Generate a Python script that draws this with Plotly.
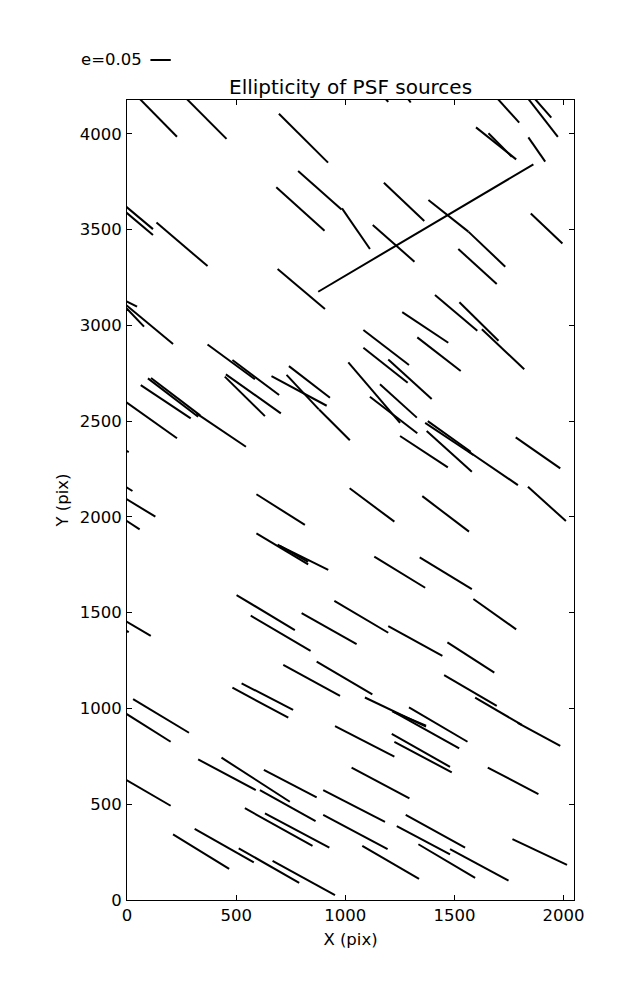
import plotly.graph_objects as go

# Whisker endpoints in detector pixel coordinates
x_start = [60, 275, 696, 784, 985, 684, -10, -10, 135, 1170, 1275, 1700, 1840, 1870, 1599, 1656, 1839,
           876, 1177, 1381, 1564, 1518, 1850, 1126, 690, -20, -20, -20, 369, 483, 662, 742, 731, 880,
           1014, 96, 63, 110, -10, 318, 453, 448, 1411, 1523, 1626, 1261, 1330, 1083, 1083, 1197,
           1159, 1113, 1251, 1373, 1366, 1378, 1560, 1781, 1837, 1020, 1353, 1133, 1341, -30, -10,
           -10, -10, 593, 593, 700, 690, 502, 567, 800, 950, 716, 869, 953, 28, -10, -10, -20, 525,
           483, 1587, 1197, 1468, 1453, 1595, 1790, 1090, 1215, 1220, 1292, 1213, 1225, -10, 326,
           433, 627, 609, 899, 1029, 540, 632, 899, 211, 310, 512, 667, 1653, 1277, 1236, 1480,
           1335, 1078, 1766]
y_start = [4180, 4180, 4104, 3805, 3610, 3720, 3625, 3595, 3536, 4200, 4200, 4180, 4180, 4180, 4033,
           4002, 3981, 3175, 3744, 3654, 3489, 3398, 3584, 3523, 3294, 3135, 3121, 3110, 2900, 2819,
           2735, 2787, 2741, 2560, 2806, 2723, 2688, 2725, 2604, 2540, 2744, 2732, 3158, 3120, 2979,
           3069, 2937, 2975, 2883, 2822, 2692, 2627, 2422, 2448, 2491, 2500, 2345, 2415, 2157, 2149,
           2108, 1792, 1789, 2360, 2160, 2098, 1985, 2118, 1914, 1849, 1855, 1592, 1484, 1497, 1561,
           1227, 1244, 908, 1048, 977, 1458, 1415, 1131, 1108, 1571, 1430, 1345, 1174, 1056, 925,
           1057, 985, 983, 1005, 867, 826, 631, 734, 743, 679, 574, 574, 691, 479, 452, 444, 343,
           371, 270, 204, 691, 444, 386, 266, 291, 283, 318]
x_end = [229, 456, 921, 983, 1113, 905, 119, 119, 369, 1197, 1300, 1797, 1974, 1944, 1783, 1763, 1916,
         1862, 1362, 1564, 1733, 1694, 1995, 1317, 907, 46, 211, 78, 586, 697, 915, 930, 879, 1021,
         1251, 326, 292, 335, 229, 545, 705, 632, 1605, 1702, 1820, 1472, 1529, 1292, 1286, 1396,
         1328, 1330, 1470, 1580, 1587, 1575, 1791, 1985, 2011, 1225, 1567, 1366, 1580, 8, 25, 130,
         58, 815, 830, 922, 830, 769, 841, 1052, 1197, 976, 1124, 1225, 284, 200, 109, 8, 761, 739,
         1783, 1445, 1683, 1694, 1809, 1985, 1370, 1370, 1522, 1560, 1480, 1488, 200, 590, 746,
         869, 864, 1182, 1294, 850, 927, 1194, 468, 581, 789, 953, 1885, 1549, 1480, 1748, 1595,
         1338, 2016]
y_end = [3984, 3973, 3849, 3605, 3398, 3494, 3502, 3471, 3309, 4166, 4163, 4058, 3984, 4084, 3866,
         3880, 3854, 3840, 3544, 3489, 3306, 3216, 3427, 3332, 3085, 3097, 2902, 2993, 2718, 2636,
         2580, 2622, 2561, 2400, 2491, 2523, 2514, 2530, 2410, 2366, 2540, 2526, 2972, 2919, 2771,
         2909, 2761, 2793, 2700, 2615, 2518, 2436, 2258, 2235, 2323, 2340, 2166, 2253, 1978, 1975,
         1923, 1630, 1623, 2338, 2135, 2001, 1935, 1958, 1752, 1723, 1765, 1409, 1300, 1336, 1395,
         1065, 1073, 748, 873, 826, 1379, 1398, 992, 952, 1413, 1274, 1187, 1013, 914, 805, 905,
         910, 792, 826, 695, 666, 492, 574, 513, 536, 412, 408, 530, 283, 273, 266, 162, 197, 90,
         26, 553, 273, 238, 101, 116, 110, 183]

x_ticks = [0, 500, 1000, 1500, 2000]
y_ticks = [0, 500, 1000, 1500, 2000, 2500, 3000, 3500, 4000]
key_label = "e=0.05"

xs, ys = [], []
for a, b, c, d in zip(x_start, y_start, x_end, y_end):
    xs += [a, c, None]
    ys += [b, d, None]

FONT = "DejaVu Sans"
fig = go.Figure()
fig.add_trace(go.Scatter(x=xs, y=ys, mode="lines",
                         line=dict(color="black", width=2), hoverinfo="skip",
                         showlegend=False))

axis_common = dict(showline=True, linecolor="black", linewidth=1, mirror="ticks",
                   ticks="inside", ticklen=5, tickwidth=1, tickcolor="black",
                   showgrid=False, zeroline=False,
                   tickfont=dict(family=FONT, size=16.5, color="black"))

fig.update_xaxes(range=[0, 2048], tickvals=x_ticks, ticktext=[str(t) for t in x_ticks],
                 title=dict(text="X (pix)", font=dict(family=FONT, size=16.5, color="black"),
                            standoff=9),
                 ticklabelstandoff=0,
                 **axis_common)
fig.update_yaxes(range=[0, 4176], tickvals=y_ticks, ticktext=[str(t) for t in y_ticks],
                 title=dict(text="Y (pix)", font=dict(family=FONT, size=16.5, color="black"),
                            standoff=6),
                 ticklabelstandoff=1,
                 **axis_common)

fig.add_annotation(text="Ellipticity of PSF sources", xref="paper", yref="paper",
                   x=0.5, y=1.0, yshift=13, xanchor="center", yanchor="middle",
                   showarrow=False, font=dict(family=FONT, size=20, color="black"))
fig.add_annotation(text=key_label, xref="paper", yref="paper",
                   x=0.037, y=1.05, xanchor="right", yanchor="middle",
                   showarrow=False, font=dict(family=FONT, size=16.5, color="black"))
fig.add_shape(type="line", xref="paper", yref="paper", x0=0.0524, x1=0.0979, y0=1.05, y1=1.05,
              line=dict(color="black", width=2))

# page body adds an 8 px offset, so margins are reduced on the top/left accordingly
fig.update_layout(width=637, height=1000, margin=dict(l=119, r=71, t=92, b=108),
                  paper_bgcolor="white", plot_bgcolor="white")

fig.write_html("out.html")
